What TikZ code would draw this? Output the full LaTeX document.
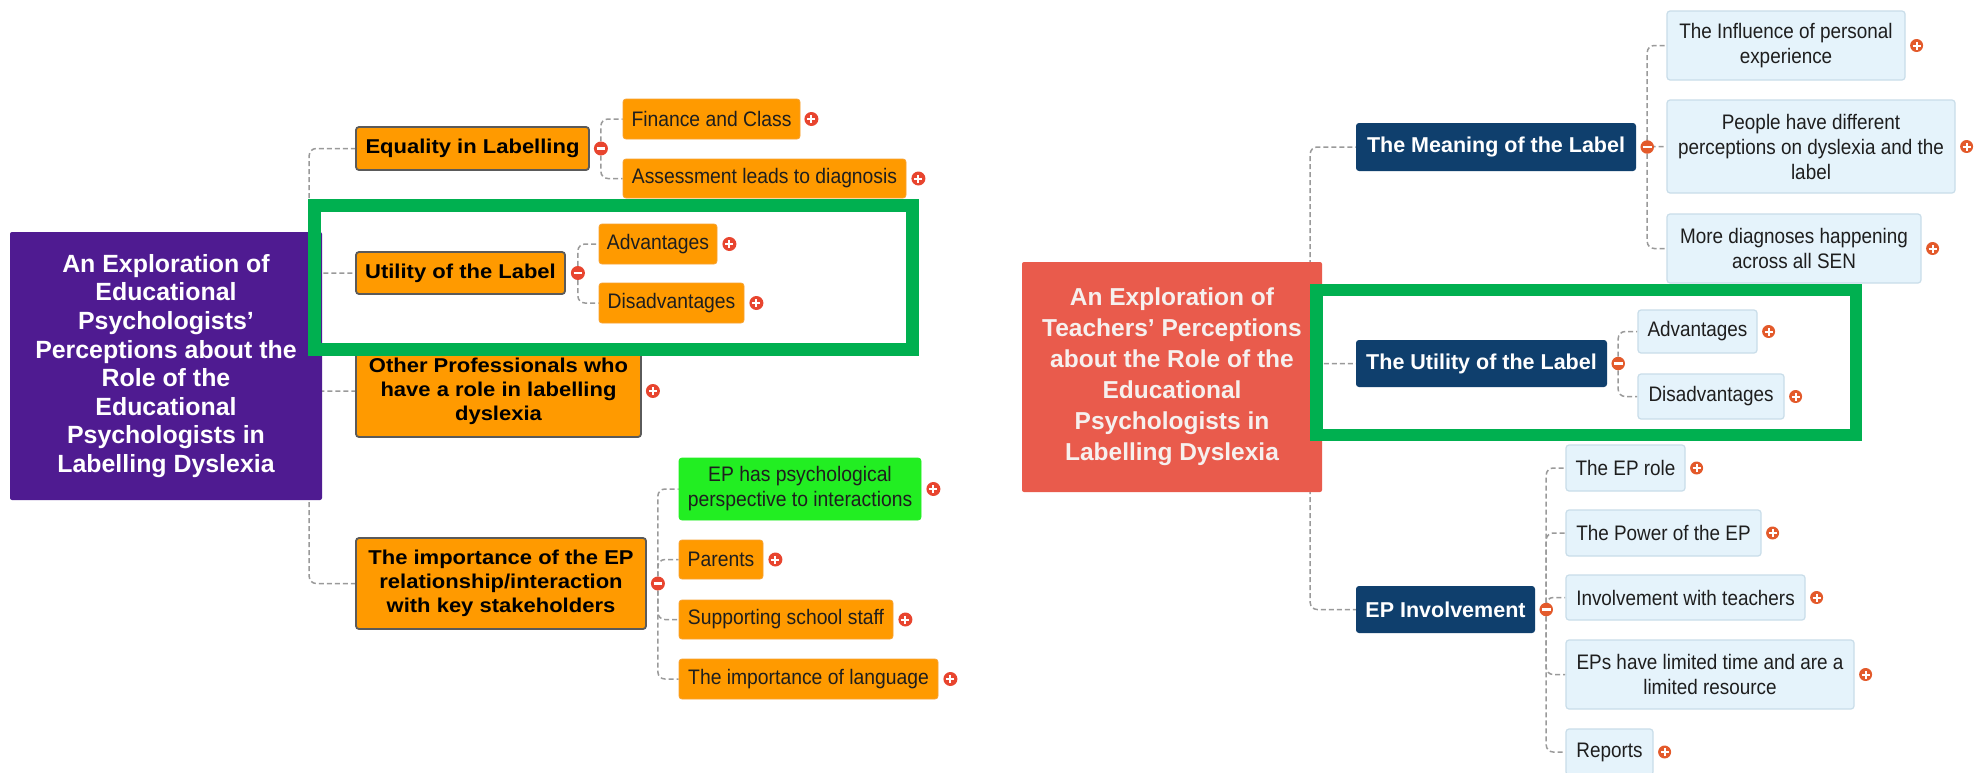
\documentclass[tikz,border=0pt]{standalone}
\usepackage{fontspec}
\setmainfont{Liberation Sans}
\newfontfamily\leaffont[FakeStretch=0.92]{Liberation Sans}
\newfontfamily\narrowfont[FakeStretch=0.9]{Liberation Sans}
\newfontfamily\widefont[FakeStretch=1.1]{Liberation Sans}
\usetikzlibrary{backgrounds}

\definecolor{rootpurple}{HTML}{4F1B91}
\definecolor{rootred}{HTML}{E95B4C}
\definecolor{orangefill}{HTML}{FF9A00}
\definecolor{orangeedge}{HTML}{F7A232}
\definecolor{darkedge}{HTML}{5A5A5A}
\definecolor{brightgreen}{HTML}{22EE22}
\definecolor{navy}{HTML}{0F3F6D}
\definecolor{leafblue}{HTML}{E5F3FB}
\definecolor{leafedge}{HTML}{C9DDE9}
\definecolor{dashgray}{HTML}{9A9A9A}
\definecolor{markgreen}{HTML}{00B050}
\definecolor{redmark}{HTML}{E8452F}
\definecolor{orangemark}{HTML}{E35A2B}
\definecolor{leaftext}{HTML}{1E1E1E}
\definecolor{roottext}{HTML}{F6F0EE}

\tikzset{
  box/.style={rectangle, inner sep=0pt, align=center, rounded corners=3pt},
  rootL/.style={box, rounded corners=2pt, fill=rootpurple, text=white,
    font=\bfseries\fontsize{24.9}{28.6}\selectfont},
  rootR/.style={box, rounded corners=2pt, fill=rootred, text=roottext,
    font=\bfseries\fontsize{24.5}{31}\selectfont},
  lmain/.style={box, fill=orangefill, draw=darkedge, line width=1.8pt,
    text=black, font=\widefont\bfseries\fontsize{20}{24}\selectfont},
  lleaf/.style={box, fill=orangefill, draw=orangeedge, line width=0.8pt,
    text=leaftext, font=\leaffont\fontsize{21}{25}\selectfont},
  gleaf/.style={lleaf, fill=brightgreen, draw=brightgreen},
  rmain/.style={box, fill=navy, text=white,
    font=\bfseries\fontsize{21.5}{24}\selectfont},
  rleaf/.style={box, fill=leafblue, draw=leafedge, line width=1.2pt,
    text=leaftext, font=\narrowfont\fontsize{21}{25}\selectfont},
  conn/.style={draw=dashgray, line width=1.5pt, dash pattern=on 5pt off 3pt,
    rounded corners=7pt},
  pm/.style={circle, inner sep=0pt, minimum size=14pt},
  minusbar/.style={path picture={
    \draw[white, line width=2.2pt]
      ([xshift=-4.3pt]path picture bounding box.center) --
      ([xshift=4.3pt]path picture bounding box.center);}},
  plusbar/.style={path picture={
    \draw[white, line width=2pt]
      ([xshift=-4pt]path picture bounding box.center) --
      ([xshift=4pt]path picture bounding box.center)
      ([yshift=-4pt]path picture bounding box.center) --
      ([yshift=4pt]path picture bounding box.center);}},
  minusL/.style={pm, fill=redmark, minusbar},
  plusL/.style={pm, fill=redmark, plusbar},
  minusR/.style={pm, minimum size=13.5pt, fill=orangemark, minusbar},
  plusR/.style={pm, minimum size=13pt, fill=orangemark, plusbar},
  highlight/.style={rectangle, draw=markgreen, line width=13pt, inner sep=0pt}
}

\begin{document}
\begin{tikzpicture}[x=1pt, y=-1pt]
\useasboundingbox (0,0) rectangle (1979,772);

% ---------- left map: educational psychologists ----------
\node[rootL, minimum width=312pt, minimum height=268pt] (rl) at (166,366)
  {An Exploration of\\Educational\\Psychologists’\\Perceptions about the\\Role of the\\Educational\\Psychologists in\\Labelling Dyslexia};

\node[lmain, minimum width=233pt, minimum height=43pt] (eq) at (472.5,148.5) {Equality in Labelling};
\node[lleaf, minimum width=177pt, minimum height=40pt] (fin) at (711.5,119) {Finance and Class};
\node[lleaf, minimum width=283pt, minimum height=39pt] (ass) at (764.5,178.5) {Assessment leads to diagnosis};

\node[lmain, minimum width=209pt, minimum height=42pt] (ut) at (460.5,273) {Utility of the Label};
\node[lleaf, minimum width=118pt, minimum height=40pt] (adv) at (658,244) {Advantages};
\node[lleaf, minimum width=145pt, minimum height=40pt] (dis) at (671.5,303) {Disadvantages};

\node[lmain, minimum width=285pt, minimum height=92pt] (oth) at (498.5,391)
  {Other Professionals who\\have a role in labelling\\dyslexia};

\node[lmain, minimum width=290pt, minimum height=91pt] (imp) at (501,583.5)
  {The importance of the EP\\relationship/interaction\\with key stakeholders};
\node[gleaf, minimum width=242pt, minimum height=62pt] (eph) at (800,489)
  {EP has psychological\\perspective to interactions};
\node[lleaf, minimum width=84pt, minimum height=39pt] (par) at (721,559.5) {Parents};
\node[lleaf, minimum width=214pt, minimum height=39pt] (sup) at (786,619.5) {Supporting school staff};
\node[lleaf, minimum width=259pt, minimum height=40pt] (lang) at (808.5,679) {The importance of language};

\node[minusL] (eqm) at ([xshift=11pt]eq.east) {};
\node[minusL] (utm) at ([xshift=12pt]ut.east) {};
\node[minusL] (impm) at ([xshift=11pt]imp.east) {};
\node[plusL] (finp) at ([xshift=11pt]fin.east) {};
\node[plusL] (assp) at ([xshift=12pt]ass.east) {};
\node[plusL] (advp) at ([xshift=12pt]adv.east) {};
\node[plusL] (disp) at ([xshift=12pt]dis.east) {};
\node[plusL] (othp) at ([xshift=11pt]oth.east) {};
\node[plusL] (ephp) at ([xshift=12pt]eph.east) {};
\node[plusL] (parp) at ([xshift=12pt]par.east) {};
\node[plusL] (supp) at ([xshift=12pt]sup.east) {};
\node[plusL] (langp) at ([xshift=12pt]lang.east) {};

\coordinate (tl) at ([xshift=-13pt]rl.east);

% ---------- right map: teachers ----------
\node[rootR, minimum width=300pt, minimum height=230pt] (rr) at (1172,377)
  {An Exploration of\\Teachers’ Perceptions\\about the Role of the\\Educational\\Psychologists in\\Labelling Dyslexia};

\node[rmain, minimum width=280pt, minimum height=48pt] (mean) at (1496,147) {The Meaning of the Label};
\node[rleaf, minimum width=238pt, minimum height=69pt] (infl) at (1786,45.5)
  {The Influence of personal\\experience};
\node[rleaf, minimum width=288pt, minimum height=93pt] (ppl) at (1811,146.5)
  {People have different\\perceptions on dyslexia and the\\label};
\node[rleaf, minimum width=254pt, minimum height=69pt] (more) at (1794,248.5)
  {More diagnoses happening\\across all SEN};

\node[rmain, minimum width=251pt, minimum height=47pt] (rut) at (1481.5,363.5) {The Utility of the Label};
\node[rleaf, minimum width=119pt, minimum height=43pt] (radv) at (1697.5,331.5) {Advantages};
\node[rleaf, minimum width=146pt, minimum height=45pt] (rdis) at (1711,396.5) {Disadvantages};

\node[rmain, minimum width=179pt, minimum height=47pt] (epi) at (1445.5,609.5) {EP Involvement};
\node[rleaf, minimum width=119pt, minimum height=46pt] (role) at (1625.5,468) {The EP role};
\node[rleaf, minimum width=195pt, minimum height=46pt] (pow) at (1663.5,533) {The Power of the EP};
\node[rleaf, minimum width=239pt, minimum height=45pt] (inv) at (1685.5,597.5) {Involvement with teachers};
\node[rleaf, minimum width=288pt, minimum height=69pt] (lim) at (1710,674.5)
  {EPs have limited time and are a\\limited resource};
\node[rleaf, minimum width=87pt, minimum height=46pt] (rep) at (1609.5,752) {Reports};

\node[minusR] (meanm) at ([xshift=11pt]mean.east) {};
\node[minusR] (rutm) at ([xshift=11pt]rut.east) {};
\node[minusR] (epim) at ([xshift=11pt]epi.east) {};
\node[plusR] (inflp) at ([xshift=11pt]infl.east) {};
\node[plusR] (pplp) at ([xshift=11pt]ppl.east) {};
\node[plusR] (morep) at ([xshift=11pt]more.east) {};
\node[plusR] (radvp) at ([xshift=11pt]radv.east) {};
\node[plusR] (rdisp) at ([xshift=11pt]rdis.east) {};
\node[plusR] (rolep) at ([xshift=11pt]role.east) {};
\node[plusR] (powp) at ([xshift=11pt]pow.east) {};
\node[plusR] (invp) at ([xshift=11pt]inv.east) {};
\node[plusR] (limp) at ([xshift=11pt]lim.east) {};
\node[plusR] (repp) at ([xshift=11pt]rep.east) {};

\coordinate (tr) at ([xshift=-12pt]rr.east);

% ---------- dashed connectors, behind the boxes ----------
\begin{pgfonlayer}{background}
  \fill[white] (0,0) rectangle (1979,772);
  \draw[conn] (tl) |- (eq.west);
  \draw[conn] (tl) |- (ut.west);
  \draw[conn] (tl) |- (oth.west);
  \draw[conn] (tl) |- (imp.west);
  \draw[conn] (eqm) |- (fin.west);
  \draw[conn] (eqm) |- (ass.west);
  \draw[conn] (utm) |- (adv.west);
  \draw[conn] (utm) |- (dis.west);
  \draw[conn] (impm) |- (eph.west);
  \draw[conn] (impm) |- (par.west);
  \draw[conn] (impm) |- (sup.west);
  \draw[conn] (impm) |- (lang.west);

  \draw[conn] (tr) |- (mean.west);
  \draw[conn] (tr) |- (rut.west);
  \draw[conn] (tr) |- (epi.west);
  \draw[conn] (meanm) |- (infl.west);
  \draw[conn] (meanm) |- (ppl.west);
  \draw[conn] (meanm) |- (more.west);
  \draw[conn] (rutm) |- (radv.west);
  \draw[conn] (rutm) |- (rdis.west);
  \draw[conn] (epim) |- (role.west);
  \draw[conn] (epim) |- (pow.west);
  \draw[conn] (epim) |- (inv.west);
  \draw[conn] (epim) |- (lim.west);
  \draw[conn] (epim) |- (rep.west);
\end{pgfonlayer}

% ---------- green frames around the utility branches ----------
\node[highlight, minimum width=597.5pt, minimum height=144pt] (hl) at (613.25,277.5) {};
\node[highlight, line width=12.5pt, minimum width=539.5pt, minimum height=145pt] (hr) at (1586.25,362.5) {};
\end{tikzpicture}
\end{document}
